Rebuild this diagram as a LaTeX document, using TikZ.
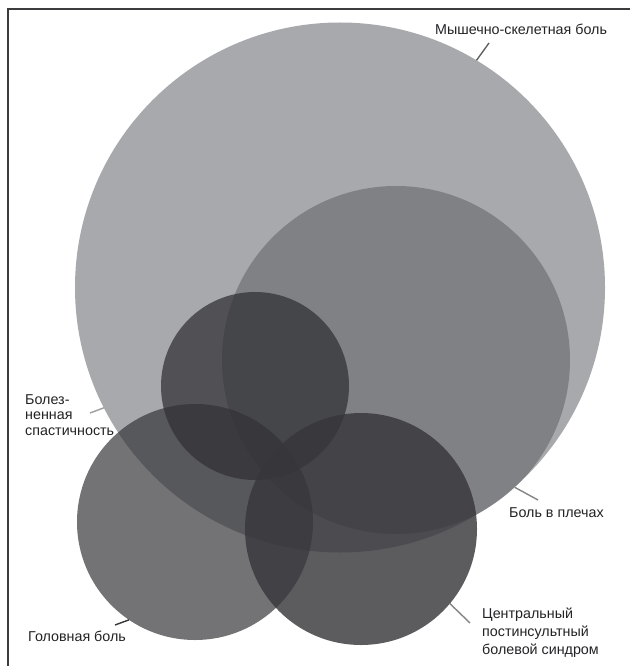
\documentclass[tikz,border=0pt]{standalone}
\usepackage{fontspec}
\setmainfont{Liberation Sans}
\definecolor{bigc}{RGB}{168,169,173}
\definecolor{shc}{RGB}{118,119,123}
\definecolor{spc}{RGB}{45,45,49}
\definecolor{hdc}{RGB}{50,50,54}
\definecolor{cpc}{RGB}{55,55,59}
\definecolor{txtc}{RGB}{35,35,38}
\definecolor{framec}{RGB}{60,60,62}
\begin{document}
\begin{tikzpicture}[x=1pt,y=-1pt,
  disk/.style={circle,inner sep=0pt,outer sep=0pt,draw=none,minimum size=#1},
  lbl/.style={inner sep=0pt,text=txtc,font=\fontsize{14.3}{18}\selectfont,align=left},
  leader/.style={line width=1.4pt,draw=#1},
  framestyle/.style={line width=1.6pt,draw=framec}]
\useasboundingbox (0,0) rectangle (630,666);
\fill[white] (0,0) rectangle (630,666);
% frame
\coordinate (frTR) at (630,9);
\coordinate (frTL) at (8,9);
\coordinate (frBL) at (8,666);
\draw[framestyle] (frTR) -- (frTL) -- (frBL);
% circles
\node[disk=530pt,fill=bigc] (big) at (340,287.5) {};
\node[disk=348pt,fill=shc,fill opacity=0.8] (shoulder) at (396,360) {};
\node[disk=188pt,fill=spc,fill opacity=0.7] (spast) at (255,386) {};
\node[disk=236pt,fill=hdc,fill opacity=0.68] (head) at (195,522) {};
\node[disk=232pt,fill=cpc,fill opacity=0.81] (cpsp) at (361,529) {};
% labels
\node[lbl,anchor=base west] (lmsk) at (435,34.5) {Мышечно-скелетная боль};
\node[lbl,anchor=north west,font=\fontsize{14.3}{15.5}\selectfont] (lsp) at (25,394.3) {Болез-\\ненная\\спастичность};
\node[lbl,anchor=base west] (lhd) at (28,641) {Головная боль};
\node[lbl,anchor=base west] (lsh) at (509,517) {Боль в плечах};
\node[lbl,anchor=north west,font=\fontsize{14.3}{17.7}\selectfont] (lcp) at (482,608) {Центральный\\постинсультный\\болевой синдром};
% leader ends
\coordinate (emsk) at (489,43);
\coordinate (esp) at (90,413);
\coordinate (ehd) at (115,625);
\coordinate (esh) at (538,500);
\coordinate (ecp) at (470,623);
\draw[leader={black!62}] (big.59) -- (emsk);
\draw[leader={black!38}] (big.207.7) -- (esp);
\draw[leader={black!78}] (head.236.7) -- (ehd);
\draw[leader={black!48}] (shoulder.313.6) -- (esh);
\draw[leader={black!48}] (cpsp.320.5) -- (ecp);
\end{tikzpicture}
\end{document}
